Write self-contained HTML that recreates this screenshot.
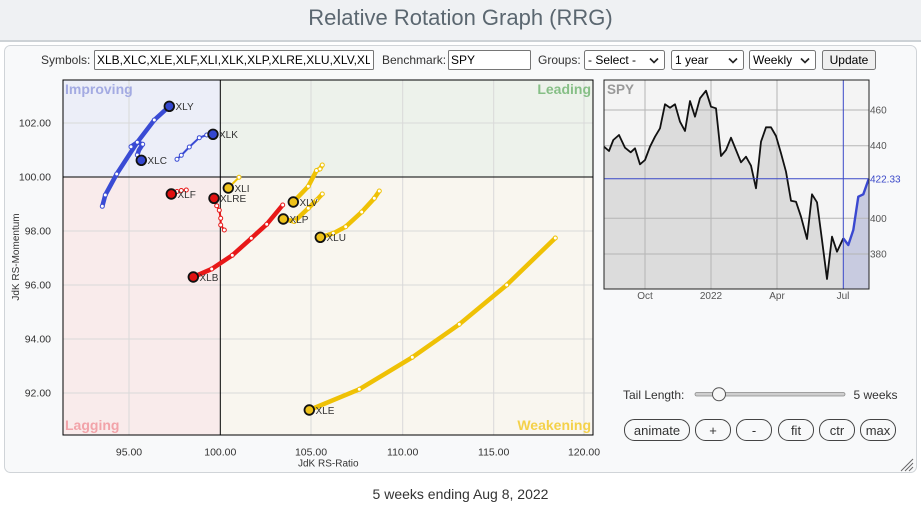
<!DOCTYPE html>
<html><head><meta charset="utf-8"><title>RRG</title><style>
html,body{margin:0;padding:0;background:#fff;width:921px;height:506px;overflow:hidden}
svg{display:block}
text{font-family:"Liberation Sans",Arial,sans-serif}
</style></head><body>
<svg width="921" height="506" viewBox="0 0 921 506" xmlns="http://www.w3.org/2000/svg">
<defs>
<clipPath id="c1"><rect x="96" y="51" width="274" height="18"/></clipPath>
<clipPath id="plot"><rect x="63" y="80" width="530" height="355"/></clipPath>
</defs>
<!-- title bar -->
<rect x="0" y="0" width="921" height="40" fill="#eff1f3"/>
<rect x="0" y="40" width="921" height="2" fill="#cdd2d6"/>
<text x="460.5" y="25" font-size="22" fill="#5b6770" text-anchor="middle">Relative Rotation Graph (RRG)</text>
<!-- panel -->
<rect x="4.5" y="45.5" width="912" height="427" rx="6" fill="#f8f9fa" stroke="#d0d4d8"/>

<!-- controls -->
<g font-size="12" fill="#333">
<text x="41" y="64">Symbols:</text>
<rect x="94.5" y="50.5" width="279" height="19" fill="#fff" stroke="#767676" rx="1"/>
<text x="97" y="64" fill="#000" clip-path="url(#c1)">XLB,XLC,XLE,XLF,XLI,XLK,XLP,XLRE,XLU,XLV,XLY</text>
<text x="382" y="64">Benchmark:</text>
<rect x="448.5" y="50.5" width="82" height="19" fill="#fff" stroke="#767676" rx="1"/>
<text x="451" y="64" fill="#000">SPY</text>
<text x="538" y="64">Groups:</text>
<rect x="584.5" y="50.5" width="80" height="19" fill="#fff" stroke="#767676" rx="2"/>
<text x="588" y="64" fill="#000">- Select -</text>
<path d="M650,58.5 L654,62.5 L658,58.5" fill="none" stroke="#222" stroke-width="1.6"/>
<rect x="671.5" y="50.5" width="72" height="19" fill="#fff" stroke="#767676" rx="2"/>
<text x="675" y="64" fill="#000">1 year</text>
<path d="M729,58.5 L733,62.5 L737,58.5" fill="none" stroke="#222" stroke-width="1.6"/>
<rect x="749.5" y="50.5" width="66" height="19" fill="#fff" stroke="#767676" rx="2"/>
<text x="753" y="64" fill="#000">Weekly</text>
<path d="M801,58.5 L805,62.5 L809,58.5" fill="none" stroke="#222" stroke-width="1.6"/>
<rect x="822.5" y="50.5" width="53" height="19" fill="#efefef" stroke="#767676" rx="2"/>
<text x="849" y="64" fill="#000" text-anchor="middle">Update</text>
</g>

<!-- quadrants -->
<rect x="63" y="80" width="157.3" height="97" fill="#eceef8"/>
<rect x="220.3" y="80" width="372.7" height="97" fill="#edf2eb"/>
<rect x="63" y="177" width="157.3" height="258" fill="#f9ebeb"/>
<rect x="220.3" y="177" width="372.7" height="258" fill="#f9f6ef"/>

<!-- grid -->
<g stroke="#d9d9d9" stroke-width="1">
<line x1="129" y1="80" x2="129" y2="435"/>
<line x1="311" y1="80" x2="311" y2="435"/>
<line x1="402.7" y1="80" x2="402.7" y2="435"/>
<line x1="493.7" y1="80" x2="493.7" y2="435"/>
<line x1="584" y1="80" x2="584" y2="435"/>
<line x1="63" y1="123" x2="593" y2="123"/>
<line x1="63" y1="231" x2="593" y2="231"/>
<line x1="63" y1="285" x2="593" y2="285"/>
<line x1="63" y1="339" x2="593" y2="339"/>
<line x1="63" y1="393" x2="593" y2="393"/>
</g>
<line x1="220.3" y1="80" x2="220.3" y2="435" stroke="#000" stroke-width="1"/>
<line x1="63" y1="177" x2="593" y2="177" stroke="#000" stroke-width="1"/>

<!-- quadrant labels -->
<g font-size="14" font-weight="bold">
<text x="65" y="94" fill="#a3aae2">Improving</text>
<text x="591" y="94" fill="#86bf86" text-anchor="end">Leading</text>
<text x="65" y="430" fill="#f2a3a9">Lagging</text>
<text x="591" y="430" fill="#f4d14a" text-anchor="end">Weakening</text>
</g>

<!-- tails -->
<g fill="none" stroke-linecap="round" stroke-linejoin="round" clip-path="url(#plot)">
<polyline stroke="#3a4bd4" stroke-width="4.5" points="102.3,206.3 105.3,195 116.7,174 137.3,142.3 154.3,120 169.3,106.3"/>
<polyline stroke="#3a4bd4" stroke-width="4.5" points="131,146.7 137.3,142.3 142.7,144.3 139,150 137.3,155 141.3,160.3"/>
<polyline stroke="#3a4bd4" stroke-width="2" points="177,159.3 181.3,155.3 189.3,147 199.3,137.7 206.7,135 213,134.3"/>
<polyline stroke="#e81818" stroke-width="2" points="171.3,194 177,191.5 181.3,190.5 186.3,190"/>
<polyline stroke="#e81818" stroke-width="2" points="214,198.3 216.7,205.7 219.3,210.3 220.7,218.3 220.7,225 224.3,230"/>
<polyline stroke="#efc105" stroke-width="2" points="228.3,188 239,177.3"/>
<polyline stroke="#e81818" stroke-width="4.5" points="193.3,277 211.7,269 232.3,255.3 251.3,238.3 266.7,224.3 282.7,205"/>
<polyline stroke="#efc105" stroke-width="4.5" points="293.3,202 308.3,186.3 316.5,170.5 320,169 322.3,165"/>
<polyline stroke="#efc105" stroke-width="4.5" points="283.3,219 294.3,221.5 308.3,208.3 316.7,200 322.3,194"/>
<polyline stroke="#efc105" stroke-width="4.5" points="320.3,237.3 333.3,233.3 345.7,226.7 361.7,212 374.3,198.3 379.3,191"/>
<polyline stroke="#efc105" stroke-width="4.5" points="309.3,410 359.3,389.3 412.3,357.3 459.3,324.3 506.7,285 555.3,238"/>
</g>
<!-- tail dots -->
<g fill="#fff" stroke-width="1">
<g stroke="#3a4bd4">
<circle cx="102.3" cy="206.3" r="2"/><circle cx="105.3" cy="195" r="2"/><circle cx="116.7" cy="174" r="2"/><circle cx="137.3" cy="142.3" r="2"/><circle cx="154.3" cy="120" r="2"/>
<circle cx="131" cy="146.7" r="2"/><circle cx="142.7" cy="144.3" r="2"/><circle cx="137.3" cy="155" r="2"/>
<circle cx="177" cy="159.3" r="2"/><circle cx="181.3" cy="155.3" r="2"/><circle cx="189.3" cy="147" r="2"/><circle cx="199.3" cy="137.7" r="2"/><circle cx="206.7" cy="135" r="2"/>
</g>
<g stroke="#e81818">
<circle cx="177" cy="191.5" r="2"/><circle cx="181.3" cy="190.5" r="2"/><circle cx="186.3" cy="190" r="2"/>
<circle cx="216.7" cy="205.7" r="2"/><circle cx="219.3" cy="210.3" r="2"/><circle cx="220.7" cy="218.3" r="2"/><circle cx="220.7" cy="225" r="2"/><circle cx="224.3" cy="230" r="2"/>
<circle cx="211.7" cy="269" r="2"/><circle cx="232.3" cy="255.3" r="2"/><circle cx="251.3" cy="238.3" r="2"/><circle cx="266.7" cy="224.3" r="2"/><circle cx="282.7" cy="205" r="2"/>
</g>
<g stroke="#efc105">
<circle cx="239" cy="177.3" r="2"/>
<circle cx="308.3" cy="186.3" r="2"/><circle cx="316.5" cy="170.5" r="2"/><circle cx="320" cy="169" r="2"/><circle cx="322.3" cy="165" r="2"/>
<circle cx="294.3" cy="221.5" r="2"/><circle cx="308.3" cy="208.3" r="2"/><circle cx="316.7" cy="200" r="2"/><circle cx="322.3" cy="194" r="2"/>
<circle cx="333.3" cy="233.3" r="2"/><circle cx="345.7" cy="226.7" r="2"/><circle cx="361.7" cy="212" r="2"/><circle cx="374.3" cy="198.3" r="2"/><circle cx="379.3" cy="191" r="2"/>
<circle cx="359.3" cy="389.3" r="2"/><circle cx="412.3" cy="357.3" r="2"/><circle cx="459.3" cy="324.3" r="2"/><circle cx="506.7" cy="285" r="2"/><circle cx="555.3" cy="238" r="2"/>
</g>
</g>
<!-- heads -->
<g stroke="#111" stroke-width="1.8">
<circle cx="169.3" cy="106.3" r="4.8" fill="#3447d0"/>
<circle cx="141.3" cy="160.3" r="4.8" fill="#3447d0"/>
<circle cx="213" cy="134.3" r="4.8" fill="#3447d0"/>
<circle cx="171.3" cy="194" r="4.8" fill="#e01010"/>
<circle cx="214" cy="198.3" r="4.8" fill="#e01010"/>
<circle cx="193.3" cy="277" r="4.8" fill="#e01010"/>
<circle cx="228.3" cy="188" r="4.8" fill="#efc21a"/>
<circle cx="293.3" cy="202" r="4.8" fill="#efc21a"/>
<circle cx="283.3" cy="219" r="4.8" fill="#efc21a"/>
<circle cx="320.3" cy="237.3" r="4.8" fill="#efc21a"/>
<circle cx="309.3" cy="410" r="4.8" fill="#efc21a"/>
</g>
<!-- head labels -->
<g font-size="10" fill="#333">
<text x="175.5" y="110">XLY</text>
<text x="147.5" y="164">XLC</text>
<text x="219" y="138">XLK</text>
<text x="177.5" y="198">XLF</text>
<text x="220" y="202">XLRE</text>
<text x="234.5" y="192">XLI</text>
<text x="199.5" y="281">XLB</text>
<text x="299.5" y="206">XLV</text>
<text x="289.5" y="223">XLP</text>
<text x="326.5" y="241">XLU</text>
<text x="315.5" y="414">XLE</text>
</g>

<!-- plot border -->
<rect x="63" y="80" width="530" height="355" fill="none" stroke="#000" stroke-width="1"/>

<!-- axes labels -->
<g font-size="10.5" fill="#333">
<text x="51" y="126.7" text-anchor="end">102.00</text>
<text x="51" y="180.7" text-anchor="end">100.00</text>
<text x="51" y="234.7" text-anchor="end">98.00</text>
<text x="51" y="288.7" text-anchor="end">96.00</text>
<text x="51" y="342.7" text-anchor="end">94.00</text>
<text x="51" y="396.7" text-anchor="end">92.00</text>
<text x="129" y="455.5" text-anchor="middle">95.00</text>
<text x="220.3" y="455.5" text-anchor="middle">100.00</text>
<text x="311" y="455.5" text-anchor="middle">105.00</text>
<text x="402.7" y="455.5" text-anchor="middle">110.00</text>
<text x="493.7" y="455.5" text-anchor="middle">115.00</text>
<text x="584" y="455.5" text-anchor="middle">120.00</text>
</g>
<text x="298" y="466.5" font-size="10" fill="#333">JdK RS-Ratio</text>
<text x="19" y="257" font-size="10" fill="#333" text-anchor="middle" transform="rotate(-90 19 257)">JdK RS-Momentum</text>

<!-- SPY chart -->
<rect x="604" y="80" width="265" height="209" fill="#f4f4f4"/>
<polygon fill="#dcdcdc" points="604,146.7 609,151 613.3,140 619,135 625,147.7 630.7,152.3 635,148.3 640,164.3 645,160 650,146.7 655,136.7 660,128.3 665,104.3 670,107.7 675,104.3 680,121.7 685,131 690,101 695,116.7 700,98.3 706,90.7 711,106.7 716,108.3 721,156 726,150 731,137.7 736,150 741,162.3 746,156.7 751,165.7 756,188.3 761,141.7 766,127.3 771,127.3 776,136 781,153.3 786,171.7 791,200.7 796,201.7 801,216.7 807,239 812,194.3 817,202.3 822,240 827,279 832,236.7 837,251.7 843.3,238.3 843.3,289 604,289"/>
<polygon fill="#c8cbe0" points="843.3,238.3 848.3,245 853.3,230 858.3,196.7 863.3,194.3 868.7,179 868.7,289 843.3,289"/>
<g stroke="#b5b5b5" stroke-width="1">
<line x1="604" y1="110" x2="869" y2="110"/>
<line x1="604" y1="145.7" x2="869" y2="145.7"/>
<line x1="604" y1="218.3" x2="869" y2="218.3"/>
<line x1="604" y1="254" x2="869" y2="254"/>
<line x1="645" y1="80" x2="645" y2="289"/>
<line x1="711" y1="80" x2="711" y2="289"/>
<line x1="777" y1="80" x2="777" y2="289"/>
</g>
<polyline fill="none" stroke="#111" stroke-width="1.8" stroke-linejoin="round" points="604,146.7 609,151 613.3,140 619,135 625,147.7 630.7,152.3 635,148.3 640,164.3 645,160 650,146.7 655,136.7 660,128.3 665,104.3 670,107.7 675,104.3 680,121.7 685,131 690,101 695,116.7 700,98.3 706,90.7 711,106.7 716,108.3 721,156 726,150 731,137.7 736,150 741,162.3 746,156.7 751,165.7 756,188.3 761,141.7 766,127.3 771,127.3 776,136 781,153.3 786,171.7 791,200.7 796,201.7 801,216.7 807,239 812,194.3 817,202.3 822,240 827,279 832,236.7 837,251.7 843.3,238.3"/>
<line x1="604" y1="178.7" x2="869" y2="178.7" stroke="#3a48c8" stroke-width="1"/>
<line x1="843.3" y1="80" x2="843.3" y2="289" stroke="#3a48c8" stroke-width="1"/>
<polyline fill="none" stroke="#3a48d0" stroke-width="2.4" stroke-linejoin="round" points="843.3,238.3 848.3,245 853.3,230 858.3,196.7 863.3,194.3 868.7,179"/>
<rect x="604" y="80" width="265" height="209" fill="none" stroke="#222" stroke-width="1"/>
<text x="607" y="94" font-size="13.5" font-weight="bold" fill="#999">SPY</text>
<g font-size="10" fill="#555">
<text x="870" y="113.5">460</text>
<text x="870" y="149.2">440</text>
<text x="870" y="221.8">400</text>
<text x="870" y="257.5">380</text>
<text x="870" y="182.3" fill="#3a48c8">422.33</text>
<text x="645" y="299" text-anchor="middle">Oct</text>
<text x="711" y="299" text-anchor="middle">2022</text>
<text x="777" y="299" text-anchor="middle">Apr</text>
<text x="843" y="299" text-anchor="middle">Jul</text>
</g>

<!-- tail length slider -->
<text x="623" y="399" font-size="12" fill="#333">Tail Length:</text>
<rect x="695" y="392.5" width="150" height="3.5" rx="1.7" fill="#cfcfcf" stroke="#8a8a8a" stroke-width="0.8"/>
<circle cx="719" cy="394.3" r="6.5" fill="#f8f8f8" stroke="#555" stroke-width="1"/>
<text x="853.5" y="399" font-size="12" fill="#333">5 weeks</text>

<!-- buttons -->
<g fill="#f8f9fa" stroke="#444" stroke-width="1">
<rect x="624.5" y="419.5" width="65" height="21" rx="10"/>
<rect x="695.5" y="419.5" width="35" height="21" rx="10"/>
<rect x="736.5" y="419.5" width="35" height="21" rx="10"/>
<rect x="778.5" y="419.5" width="35" height="21" rx="10"/>
<rect x="819.5" y="419.5" width="35" height="21" rx="10"/>
<rect x="860.5" y="419.5" width="35" height="21" rx="10"/>
</g>
<g font-size="13" fill="#333" text-anchor="middle">
<text x="657" y="435">animate</text>
<text x="713" y="435">+</text>
<text x="754" y="435">-</text>
<text x="796" y="435">fit</text>
<text x="837" y="435">ctr</text>
<text x="878" y="435">max</text>
</g>

<!-- resize grip -->
<g stroke="#666" stroke-width="1">
<line x1="913" y1="459" x2="901" y2="471"/>
<line x1="913" y1="463" x2="905" y2="471"/>
<line x1="913" y1="467" x2="909" y2="471"/>
</g>

<!-- footer -->
<text x="460.5" y="499" font-size="14" fill="#333" text-anchor="middle">5 weeks ending Aug 8, 2022</text>
</svg>
</body></html>
